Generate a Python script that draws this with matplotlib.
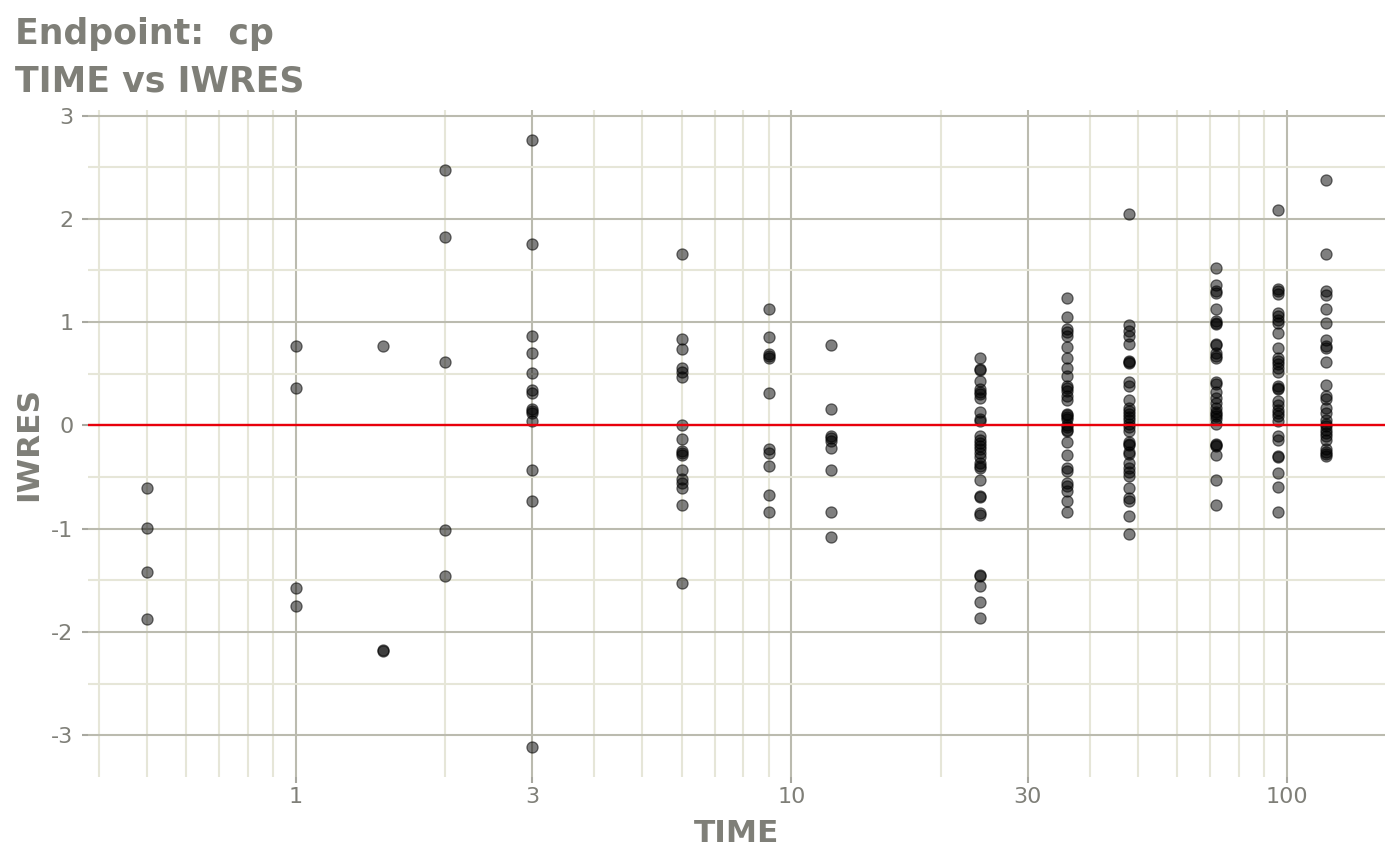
import numpy as np
import matplotlib
matplotlib.use('Agg')
import matplotlib.pyplot as plt
from matplotlib.ticker import FixedLocator, NullFormatter

# IWRES values read per nominal sampling time
iwres_t0_5 = [-0.61, -0.99, -1.42, -1.87]
iwres_t1 = [0.77, 0.36, -1.57, -1.75]
iwres_t1_5 = [0.77, -2.17, -2.18]
iwres_t2 = [2.47, 1.82, 0.61, -1.01, -1.46]
iwres_t3 = [2.76, 1.76, 0.87, 0.70, 0.51, 0.34, 0.31, 0.16, 0.14, 0.12, 0.04,
            -0.43, -0.73, -3.11]
iwres_t6 = [1.66, 0.84, 0.74, 0.56, 0.52, 0.47, 0.00, -0.13, -0.25, -0.27,
            -0.29, -0.43, -0.52, -0.56, -0.61, -0.77, -1.53]
iwres_t9 = [1.13, 0.86, 0.69, 0.67, 0.65, 0.31, -0.23, -0.27, -0.39, -0.67, -0.84]
iwres_t12 = [0.78, 0.16, -0.10, -0.12, -0.15, -0.22, -0.43, -0.84, -1.08]
iwres_t24 = [0.65, 0.55, 0.54, 0.43, 0.35, 0.32, 0.30, 0.27, 0.13, 0.06, 0.04,
             -0.10, -0.14, -0.17, -0.20, -0.23, -0.27, -0.31, -0.36, -0.39,
             -0.41, -0.53, -0.68, -0.69, -0.85, -0.87, -1.45, -1.46, -1.55,
             -1.71, -1.86]
iwres_t36 = [1.23, 1.05, 0.93, 0.90, 0.87, 0.76, 0.65, 0.56, 0.48, 0.38, 0.36,
             0.33, 0.28, 0.25, 0.11, 0.10, 0.08, 0.06, 0.00, -0.02, -0.04,
             -0.05, -0.16, -0.29, -0.41, -0.44, -0.56, -0.59, -0.63, -0.73,
             -0.84]
iwres_t48 = [2.05, 0.97, 0.91, 0.87, 0.79, 0.62, 0.61, 0.60, 0.42, 0.38, 0.25,
             0.17, 0.14, 0.11, 0.08, 0.05, 0.01, -0.02, -0.05, -0.16, -0.18,
             -0.19, -0.26, -0.28, -0.36, -0.41, -0.45, -0.49, -0.61, -0.70,
             -0.73, -0.88, -1.05]
iwres_t72 = [1.52, 1.36, 1.30, 1.28, 1.13, 1.01, 0.99, 0.98, 0.79, 0.78, 0.70,
             0.67, 0.65, 0.42, 0.40, 0.32, 0.27, 0.22, 0.17, 0.13, 0.11, 0.09,
             0.06, 0.01, -0.18, -0.19, -0.20, -0.29, -0.53, -0.77]
iwres_t96 = [2.09, 1.32, 1.30, 1.27, 1.09, 1.06, 1.02, 0.99, 0.89, 0.75, 0.65,
             0.62, 0.59, 0.56, 0.52, 0.38, 0.36, 0.35, 0.24, 0.20, 0.15, 0.12,
             0.09, 0.04, -0.10, -0.14, -0.30, -0.31, -0.46, -0.60, -0.84]
iwres_t120 = [2.38, 1.66, 1.30, 1.26, 1.13, 0.99, 0.83, 0.77, 0.75, 0.61, 0.39,
              0.28, 0.26, 0.17, 0.12, 0.05, 0.01, -0.01, -0.04, -0.07, -0.10,
              -0.14, -0.23, -0.26, -0.28, -0.30]

times = [0.5, 1, 1.5, 2, 3, 6, 9, 12, 24, 36, 48, 72, 96, 120]
groups = [iwres_t0_5, iwres_t1, iwres_t1_5, iwres_t2, iwres_t3, iwres_t6,
          iwres_t9, iwres_t12, iwres_t24, iwres_t36, iwres_t48, iwres_t72,
          iwres_t96, iwres_t120]

x_breaks = [1, 3, 10, 30, 100]
x_labels = ['1', '3', '10', '30', '100']
x_minor = [0.4, 0.5, 0.6, 0.7, 0.8, 0.9, 2, 4, 5, 6, 7, 8, 9,
           20, 40, 50, 60, 70, 80, 90]
y_breaks = [-3, -2, -1, 0, 1, 2, 3]
y_minor = [-2.5, -1.5, -0.5, 0.5, 1.5, 2.5]

TXT = '#7f7f78'
MAJ = '#bbbbaf'
MIN = '#e6e6d8'

x = np.concatenate([[t] * len(g) for t, g in zip(times, groups)])
y = np.concatenate(groups)

fig = plt.figure(figsize=(14, 8.65), dpi=100)
ax = fig.add_axes([88 / 1400, 1 - 777 / 865, 1297 / 1400, 667 / 865])

ax.set_xscale('log')
lx = np.log10(x)
span = lx.max() - lx.min()
ax.set_xlim(10 ** (lx.min() - 0.05 * span), 10 ** (lx.max() + 0.05 * span))
yspan = y.max() - y.min()
ax.set_ylim(y.min() - 0.05 * yspan, y.max() + 0.05 * yspan)

ax.xaxis.set_major_locator(FixedLocator(x_breaks))
ax.set_xticklabels(x_labels)
ax.xaxis.set_minor_locator(FixedLocator(x_minor))
ax.xaxis.set_minor_formatter(NullFormatter())
ax.set_yticks(y_breaks)
ax.set_yticklabels([str(v) for v in y_breaks])
ax.yaxis.set_minor_locator(FixedLocator(y_minor))

ax.grid(which='minor', color=MIN, linewidth=1.5, zorder=0)
ax.grid(which='major', color=MAJ, linewidth=1.5, zorder=0)
ax.set_axisbelow(True)
for s in ax.spines.values():
    s.set_visible(False)

ax.tick_params(which='major', length=4.5, width=1.5, color='#a8a8a0',
               labelsize=16, labelcolor=TXT)
ax.tick_params(axis='x', which='major', pad=3)
ax.tick_params(axis='y', which='major', pad=6)
ax.tick_params(which='minor', length=0)

ax.scatter(x, y, s=64, facecolor=(0, 0, 0, 0.5), edgecolor=(0, 0, 0, 0.55),
           linewidth=0.9, zorder=3)
ax.axhline(0, color='#e8000b', linewidth=1.7, zorder=4)

ax.set_xlabel('TIME', fontsize=22.5, fontweight='bold', color=TXT, labelpad=8)
ax.set_ylabel('IWRES', fontsize=22.5, fontweight='bold', color=TXT, labelpad=6)

fig.text(15 / 1400, 1 - 44 / 865, 'Endpoint:  cp', fontsize=25, fontweight='bold',
         color=TXT, va='baseline', ha='left')
fig.text(15 / 1400, 1 - 92 / 865, 'TIME vs IWRES', fontsize=25, fontweight='bold',
         color=TXT, va='baseline', ha='left')

fig.savefig('out.png', dpi=100)
